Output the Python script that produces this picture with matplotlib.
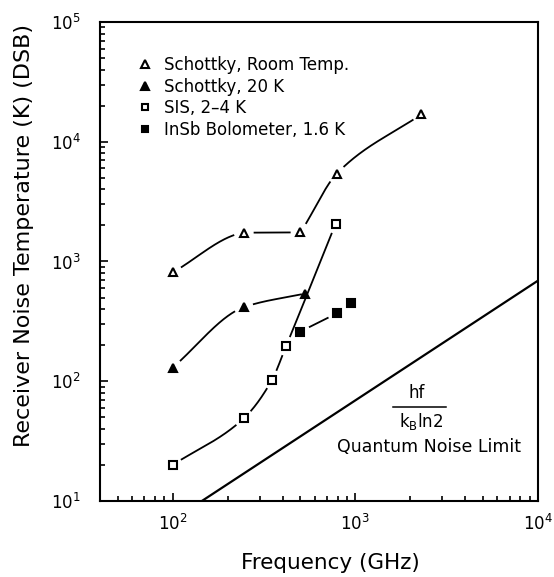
import numpy as np
import matplotlib
matplotlib.use("Agg")
import matplotlib.pyplot as plt
from matplotlib.lines import Line2D

# Receiver noise temperature (K, DSB) versus frequency (GHz)
schottky_rt_f = [100, 245, 500, 790, 2300]
schottky_rt_t = [810, 1740, 1750, 5400, 17000]

schottky_20k_f = [100, 245, 530]
schottky_20k_t = [130, 415, 540]

sis_f = [100, 245, 350, 418, 780]
sis_t = [20, 49, 103, 197, 2070]

insb_f = [500, 795, 950]
insb_t = [260, 370, 450]
insb_joined = 2  # only the first two bolometer points are joined

legend_labels = ["Schottky, Room Temp.", "Schottky, 20 K",
                 "SIS, 2\u20134 K", "InSb Bolometer, 1.6 K"]

x_limits = (40, 1e4)
y_limits = (10, 1e5)

H_PLANCK = 6.62607e-34
K_BOLTZ = 1.380649e-23

plt.rcParams["font.family"] = ["DejaVu Sans"]
plt.rcParams["mathtext.default"] = "regular"

fig = plt.figure(figsize=(5.54, 5.77), dpi=100)
ax = fig.add_axes([0.1805, 0.1317, 0.7906, 0.8302])
ax.set_xscale("log")
ax.set_yscale("log")
ax.set_xlim(*x_limits)
ax.set_ylim(*y_limits)


def hermite(x, y, xn):
    """Cubic Hermite curve; knots next to a flat run get one-sided tangents."""
    x = np.asarray(x, float)
    y = np.asarray(y, float)
    h = np.diff(x)
    d = np.diff(y) / h
    n = len(x)
    m_left = np.empty(n)
    m_right = np.empty(n)
    m_left[0] = m_right[0] = d[0]
    m_left[-1] = m_right[-1] = d[-1]
    for k in range(1, n - 1):
        if abs(d[k]) < 0.1:
            m_left[k], m_right[k] = 0.25 * d[k - 1], d[k]
        elif abs(d[k - 1]) < 0.1:
            m_left[k], m_right[k] = d[k - 1], 0.9 * d[k]
        else:
            w1 = 2 * h[k] + h[k - 1]
            w2 = h[k] + 2 * h[k - 1]
            m_left[k] = m_right[k] = (w1 + w2) / (w1 / d[k - 1] + w2 / d[k])
    idx = np.clip(np.searchsorted(x, xn) - 1, 0, n - 2)
    t = (xn - x[idx]) / h[idx]
    h00 = 2 * t**3 - 3 * t**2 + 1
    h10 = t**3 - 2 * t**2 + t
    h01 = -2 * t**3 + 3 * t**2
    h11 = t**3 - t**2
    return (h00 * y[idx] + h10 * h[idx] * m_right[idx]
            + h01 * y[idx + 1] + h11 * h[idx] * m_left[idx + 1])


def smooth_curve(f, t, gap_px=10.5, gap_last=True):
    """Smooth log-log curve through the points, broken around each marker."""
    lx = np.log10(f)
    ly = np.log10(t)
    xs = np.linspace(lx[0], lx[-1], 800)
    ys = hermite(lx, ly, xs)
    fx, ty = 10**xs, 10**ys
    disp = ax.transData.transform(np.column_stack([fx, ty]))
    pts = ax.transData.transform(np.column_stack([f, t]))
    radii = np.full(len(pts), gap_px, float)
    if not gap_last:
        radii[-1] = 4
    mask = np.zeros(len(xs), bool)
    for p, r in zip(pts, radii):
        mask |= np.hypot(disp[:, 0] - p[0], disp[:, 1] - p[1]) < r
    ty = ty.copy()
    ty[mask] = np.nan
    ax.plot(fx, ty, color="black", lw=1.3, zorder=2)


smooth_curve(schottky_rt_f, schottky_rt_t)
smooth_curve(schottky_20k_f, schottky_20k_t, gap_last=False)
smooth_curve(sis_f, sis_t)
smooth_curve(insb_f[:insb_joined], insb_t[:insb_joined])

mk = dict(linestyle="none", color="black", markersize=6, markeredgewidth=1.5,
          zorder=3)
ax.plot(schottky_rt_f, schottky_rt_t, marker="^", markerfacecolor="white", **mk)
ax.plot(schottky_20k_f, schottky_20k_t, marker="^", **mk)
ax.plot(sis_f, sis_t, marker="s", markerfacecolor="white", **dict(mk, markersize=5.5))
ax.plot(insb_f, insb_t, marker="s", **dict(mk, markersize=5.5))

# Quantum noise limit T = h f / (k_B ln 2)
f_ql = np.logspace(np.log10(x_limits[0]), np.log10(x_limits[1]), 200)
t_ql = H_PLANCK * f_ql * 1e9 / (K_BOLTZ * np.log(2))
ax.plot(f_ql, t_ql, color="black", lw=1.6, zorder=2)

ax.text(0.723, 0.2255, "hf", transform=ax.transAxes, ha="center",
        va="center", fontsize=12)
ax.add_line(Line2D([0.669, 0.790], [0.197, 0.197], transform=ax.transAxes,
                   color="black", lw=1.1))
ax.text(0.734, 0.1655, "k$_B$ln2", transform=ax.transAxes, ha="center",
        va="center", fontsize=12)
ax.text(0.751, 0.113, "Quantum Noise Limit", transform=ax.transAxes,
        ha="center", va="center", fontsize=12.5)

handles = [
    Line2D([], [], marker="^", markerfacecolor="white", **mk),
    Line2D([], [], marker="^", **mk),
    Line2D([], [], marker="s", markerfacecolor="white", **dict(mk, markersize=5)),
    Line2D([], [], marker="s", **dict(mk, markersize=5)),
]
ax.legend(handles, legend_labels, loc="upper left",
          bbox_to_anchor=(0.068, 0.943), frameon=False, fontsize=12,
          handlelength=1.0, handletextpad=0.65, labelspacing=0.22,
          borderaxespad=0)

for side in ax.spines.values():
    side.set_linewidth(1.5)
ax.tick_params(which="both", direction="in", top=False, right=False,
               labelsize=12, width=1.2)
ax.tick_params(which="major", length=6)
ax.tick_params(which="minor", length=3.5)
ax.tick_params(axis="y", which="major", pad=14)
ax.tick_params(axis="x", which="major", pad=9)

ax.set_xlabel("Frequency (GHz)", fontsize=15.5)
ax.set_ylabel("Receiver Noise Temperature (K) (DSB)", fontsize=16)
ax.xaxis.set_label_coords(0.527, -0.108)
ax.yaxis.set_label_coords(-0.150, 0.555)

fig.savefig("out.png", dpi=100)
